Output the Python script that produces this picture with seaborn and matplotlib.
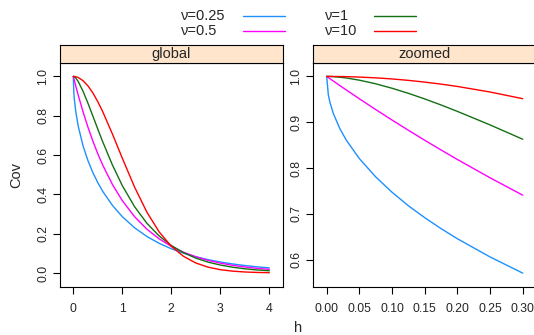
import matplotlib
matplotlib.use("Agg")
import matplotlib.pyplot as plt
import pandas as pd
import seaborn as sns
from matplotlib.lines import Line2D

# Matern covariance curves
nu_labels = ["ν=0.25", "ν=0.5", "ν=1", "ν=10"]
nu_colors = ["#1E90FF", "#FF00FF", "#147014", "#FF0000"]

# global panel, h in [0, 4]
h_global = [0, 0.01, 0.02, 0.05, 0.1, 0.2, 0.3, 0.4, 0.5, 0.6, 0.8, 1.0,
            1.25, 1.5, 1.75, 2.0, 2.25, 2.5, 2.75, 3.0, 3.25, 3.5, 3.75, 4.0]
cov_025_global = [1.0, .9196, .8864, .8206, .7472, .6457, .5707, .5102, .4593, .4154, .3433, .2862,
                  .2299, .1858, .1510, .1230, .1006, .0825, .0677, .0557, .0458, .0378, .0312, .0258]
cov_05_global = [1.0, .9900, .9802, .9512, .9048, .8187, .7408, .6703, .6065, .5488, .4493, .3679,
                 .2865, .2231, .1738, .1353, .1054, .0821, .0639, .0498, .0388, .0302, .0235, .0183]
cov_1_global = [1.0, .9995, .9983, .9918, .9742, .9237, .8629, .7977, .7319, .6677, .5483, .4444,
                .3373, .2533, .1886, .1397, .1028, .0754, .0551, .0402, .0292, .0211, .0153, .0111]
cov_10_global = [1.0, .9999, .9998, .9986, .9945, .9781, .9514, .9156, .8714, .8207, .7060, .5839,
                 .4370, .3100, .2095, .1356, .0844, .0506, .0294, .0165, .0091, .0049, .0025, .0013]

# zoomed panel, h in [0, 0.3]
h_zoom = [0, 0.0025, 0.005, 0.01, 0.02, 0.03, 0.05, 0.075, 0.1, 0.125, 0.15, 0.175, 0.2, 0.25, 0.3]
cov_025_zoom = [1.0, .9598, .9432, .9196, .8864, .8609, .8206, .7807, .7472, .7177, .6917, .6678, .6457, .6060, .5707]
cov_05_zoom = [1.0, .9975, .9950, .9900, .9802, .9704, .9512, .9277, .9048, .8825, .8607, .8395, .8187, .7788, .7408]
cov_1_zoom = [1.0, 1.0, .9999, .9995, .9983, .9966, .9918, .9839, .9742, .9631, .9509, .9377, .9237, .8942, .8629]
cov_10_zoom = [1.0, 1.0, 1.0, .9999, .9998, .9995, .9986, .9969, .9945, .9914, .9876, .9832, .9781, .9660, .9514]

x_ticks_global = [0, 1, 2, 3, 4]
y_ticks_global = [0.0, 0.2, 0.4, 0.6, 0.8, 1.0]
x_ticks_zoom = [0.0, 0.05, 0.10, 0.15, 0.20, 0.25, 0.30]
y_ticks_zoom = [0.6, 0.7, 0.8, 0.9, 1.0]


def to_long(h, series):
    frames = []
    for lab, vals in zip(nu_labels, series):
        frames.append(pd.DataFrame({"h": h, "cov": vals, "nu": lab}))
    return pd.concat(frames, ignore_index=True)


df_global = to_long(h_global, [cov_025_global, cov_05_global, cov_1_global, cov_10_global])
df_zoom = to_long(h_zoom, [cov_025_zoom, cov_05_zoom, cov_1_zoom, cov_10_zoom])

sns.set_style("white")
plt.rcParams["font.family"] = ["Liberation Sans", "DejaVu Sans"]

fig = plt.figure(figsize=(5.34, 3.35), dpi=100)
palette = dict(zip(nu_labels, nu_colors))

panels = [
    ("global", df_global, 0.1116, (-0.28, 4.28), (-0.07, 1.07),
     x_ticks_global, [str(t) for t in x_ticks_global],
     y_ticks_global, ["%.1f" % t for t in y_ticks_global]),
    ("zoomed", df_zoom, 0.5861, (-0.021, 0.321), (0.541, 1.030),
     x_ticks_zoom, ["%.2f" % t for t in x_ticks_zoom],
     y_ticks_zoom, ["%.1f" % t for t in y_ticks_zoom]),
]

bottom, height, width = 0.1442, 0.6687, 0.4184
for title, df, left, xlim, ylim, xt, xtl, yt, ytl in panels:
    ax = fig.add_axes([left, bottom, width, height])
    sns.lineplot(data=df, x="h", y="cov", hue="nu", palette=palette, ax=ax,
                 legend=False, linewidth=1.0, errorbar=None, sort=False)
    ax.set_xlim(*xlim)
    ax.set_ylim(*ylim)
    ax.set_xticks(xt)
    ax.set_xticklabels(xtl)
    ax.set_yticks(yt)
    ax.set_yticklabels(ytl, rotation=90, va="center")
    ax.set_xlabel("")
    ax.set_ylabel("")
    ax.tick_params(direction="out", length=5, width=0.8, color="black",
                   labelsize=8.8, bottom=True, left=True)
    ax.tick_params(axis="x", pad=6.5)
    ax.tick_params(axis="y", pad=2.5)
    for sp in ax.spines.values():
        sp.set_color("black")
        sp.set_linewidth(0.8)

    # lattice-style strip on top of each panel
    strip = fig.add_axes([left, bottom + height, width, 0.0528])
    strip.set_facecolor("#FFE5CC")
    strip.set_xticks([])
    strip.set_yticks([])
    for sp in strip.spines.values():
        sp.set_color("black")
        sp.set_linewidth(0.8)
    strip.text(0.5, 0.5, title, ha="center", va="center", fontsize=10.5,
               transform=strip.transAxes)

fig.text(16.7 / 534, 1 - 175 / 335, "Cov", rotation=90, ha="center", va="center", fontsize=10.5)
fig.text(298 / 534, 1 - 328 / 335, "h", ha="center", va="center", fontsize=10.5)

# key above the panels: two columns, text then line
key_cols = [(180.5, 242.5, 284.5), (325, 374, 415.5)]
key_rows = [16.3, 30.7]
for i, (lab, col) in enumerate(zip(nu_labels, nu_colors)):
    tx, x0, x1 = key_cols[i // 2]
    yy = 1 - key_rows[i % 2] / 335
    fig.text(tx / 534, yy, lab, ha="left", va="center", fontsize=10.5)
    fig.add_artist(Line2D([x0 / 534, x1 / 534], [yy, yy], color=col, linewidth=1.0,
                          transform=fig.transFigure))

fig.savefig("out.png", dpi=100)
